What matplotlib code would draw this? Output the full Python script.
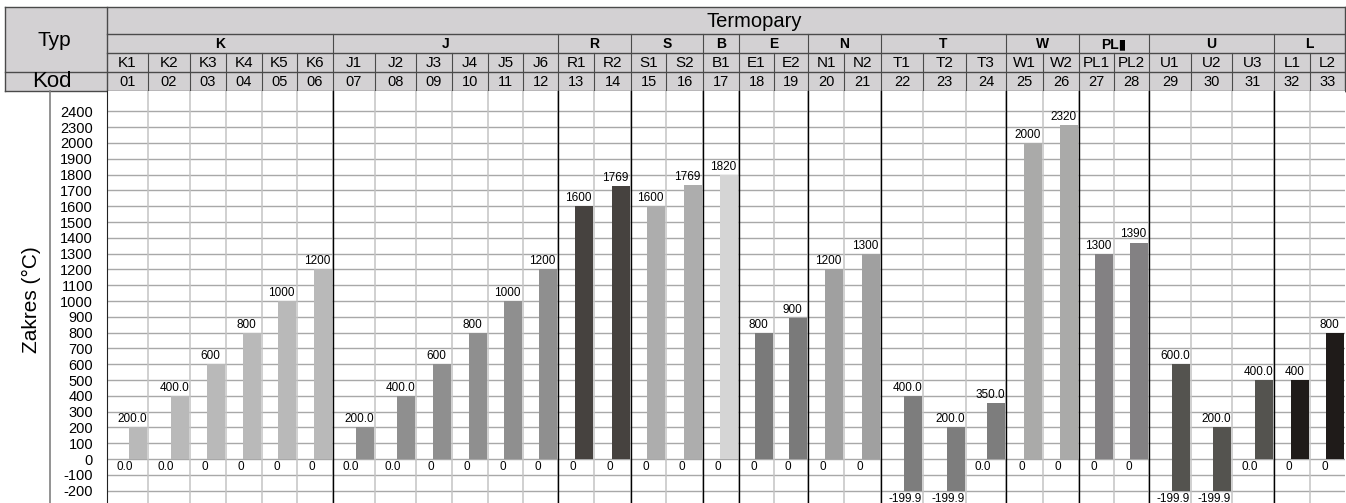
import matplotlib.pyplot as plt
from matplotlib.patches import Rectangle

plt.rcParams['font.family'] = ['Liberation Sans', 'DejaVu Sans']

# --- data ---
groups = ['K', 'J', 'R', 'S', 'B', 'E', 'N', 'T', 'W', 'PL\u25ae', 'U', 'L']
group_size = [6, 6, 2, 2, 1, 2, 2, 3, 2, 2, 3, 2]
group_color = ['#b9b9b9', '#8f8f8f', '#46423f', '#adadad', '#d5d5d5', '#7a7a7a',
               '#a0a0a0', '#7d7d7d', '#aaaaa9', '#838183', '#54534f', '#1f1b19']

names = ['K1', 'K2', 'K3', 'K4', 'K5', 'K6', 'J1', 'J2', 'J3', 'J4', 'J5', 'J6',
         'R1', 'R2', 'S1', 'S2', 'B1', 'E1', 'E2', 'N1', 'N2', 'T1', 'T2', 'T3',
         'W1', 'W2', 'PL1', 'PL2', 'U1', 'U2', 'U3', 'L1', 'L2']
codes = ['%02d' % (i + 1) for i in range(33)]

top_labels = ['200.0', '400.0', '600', '800', '1000', '1200',
              '200.0', '400.0', '600', '800', '1000', '1200',
              '1600', '1769', '1600', '1769', '1820', '800', '900', '1200', '1300',
              '400.0', '200.0', '350.0', '2000', '2320', '1300', '1390',
              '600.0', '200.0', '400.0', '400', '800']
bottom_labels = ['0.0', '0.0', '0', '0', '0', '0',
                 '0.0', '0.0', '0', '0', '0', '0',
                 '0', '0', '0', '0', '0', '0', '0', '0', '0',
                 '-199.9', '-199.9', '0.0', '0', '0', '0', '0',
                 '-199.9', '-199.9', '0.0', '0', '0']
# bar tops / bottoms as drawn in the picture
highs = [200, 400, 600, 800, 1000, 1200,
         200, 400, 600, 800, 1000, 1200,
         1600, 1730, 1600, 1735, 1800, 800, 890, 1200, 1300,
         400, 200, 355, 2000, 2115, 1300, 1370,
         600, 200, 500, 500, 800]
lows = [0] * 21 + [-199.9, -199.9, 0] + [0] * 4 + [-199.9, -199.9, 0, 0, 0]

ytick_text = ['2400', '2300', '2000', '1900', '1800', '1700', '1600', '1500', '1400',
              '1300', '1200', '1100', '1000', '900', '800', '700', '600', '500',
              '400', '300', '200', '100', '0', '-100', '-200']

# --- layout (pixels) ---
W, H = 1346, 503
col_w = [41, 42, 36, 36, 35, 36, 42, 41, 36, 36, 35, 35, 36, 37, 35, 37, 36, 35, 34,
         36, 37, 42, 43, 40, 37, 36, 35, 35, 42, 41, 42, 36, 35]
x0 = 107
edges = [x0]
for w in col_w:
    edges.append(edges[-1] + w)
gedges = [0]
for n in group_size:
    gedges.append(gedges[-1] + n)

HEAD = '#d3d1d3'
LINE = '#4a4a4a'

fig = plt.figure(figsize=(W / 100, H / 100), dpi=100)

# header / frame drawn in pixel space
hx = fig.add_axes([0, 0, 1, 1])
hx.set_xlim(0, W)
hx.set_ylim(H, 0)
hx.axis('off')
hx.add_patch(Rectangle((5, 7), edges[-1] - 5, 84, facecolor=HEAD, edgecolor='none'))
for y, xa in [(7, 5), (34, x0), (53, x0), (72, 5), (91, 5)]:
    hx.plot([xa, edges[-1]], [y, y], color=LINE, lw=1)
hx.plot([5, 5], [7, 91], color=LINE, lw=1)
hx.plot([x0, x0], [7, 91], color=LINE, lw=1)
hx.plot([edges[-1], edges[-1]], [7, 91], color=LINE, lw=1)
for e in edges[1:-1]:
    hx.plot([e, e], [53, 91], color=LINE, lw=0.8)
for g in gedges[1:-1]:
    hx.plot([edges[g], edges[g]], [34, 53], color=LINE, lw=0.8)

hx.text(754, 21, 'Termopary', ha='center', va='center', fontsize=14.5)
hx.text(54, 40, 'Typ', ha='center', va='center', fontsize=15)
hx.text(52, 81, 'Kod', ha='center', va='center', fontsize=16)
for i, gname in enumerate(groups):
    xc = (edges[gedges[i]] + edges[gedges[i + 1]]) / 2
    hx.text(xc, 44, gname, ha='center', va='center', fontsize=10, fontweight='bold')
for i in range(33):
    xc = (edges[i] + edges[i + 1]) / 2
    hx.text(xc, 63, names[i], ha='center', va='center', fontsize=11)
    hx.text(xc, 82, codes[i], ha='center', va='center', fontsize=10.5)

hx.plot([50, 50], [91, H], color='#808080', lw=1.2)
hx.text(31, 300, 'Zakres (\u00b0C)', rotation=90, ha='center', va='center', fontsize=15)

# bar area
ax = fig.add_axes([x0 / W, 0, (edges[-1] - x0) / W, (H - 91) / H])
ax.set_xlim(x0, edges[-1])
ax.set_ylim(-278, 2329)
for s in ['top', 'right', 'bottom']:
    ax.spines[s].set_visible(False)
ax.spines['left'].set_color('#222222')
ax.set_xticks([])
ax.set_yticks(range(-200, 2201, 100))
ax.set_yticklabels(ytick_text[::-1], fontsize=10.5)
ax.tick_params(axis='y', length=0, pad=10)
for v in range(-200, 2201, 100):
    ax.axhline(v, color='#a8a8a8', lw=1, zorder=1)
for e in edges[1:-1]:
    ax.axvline(e, color='#c4c4c4', lw=1.1, zorder=1)
for g in gedges[1:-1]:
    ax.axvline(edges[g], color='black', lw=1, zorder=2)

colors = []
for c, n in zip(group_color, group_size):
    colors += [c] * n

bw = 18
for i in range(33):
    right = edges[i + 1] - 1.5
    bx = right - bw / 2
    ax.bar(bx, highs[i] - lows[i], bottom=lows[i], width=bw, color=colors[i], zorder=3)
    ax.annotate(top_labels[i], (bx - 5, highs[i]), xytext=(0, 1.5), textcoords='offset points',
                ha='center', va='bottom', fontsize=8.5)
    if lows[i] < 0:
        ax.annotate(bottom_labels[i], (bx - 7, lows[i]), xytext=(0, -1.5), textcoords='offset points',
                    ha='center', va='top', fontsize=8.5)
    else:
        xc = (edges[i] + edges[i + 1]) / 2 - 3
        ax.text(xc, -50, bottom_labels[i], ha='center', va='center', fontsize=8.5, zorder=4)

fig.savefig('out.png', dpi=100)
